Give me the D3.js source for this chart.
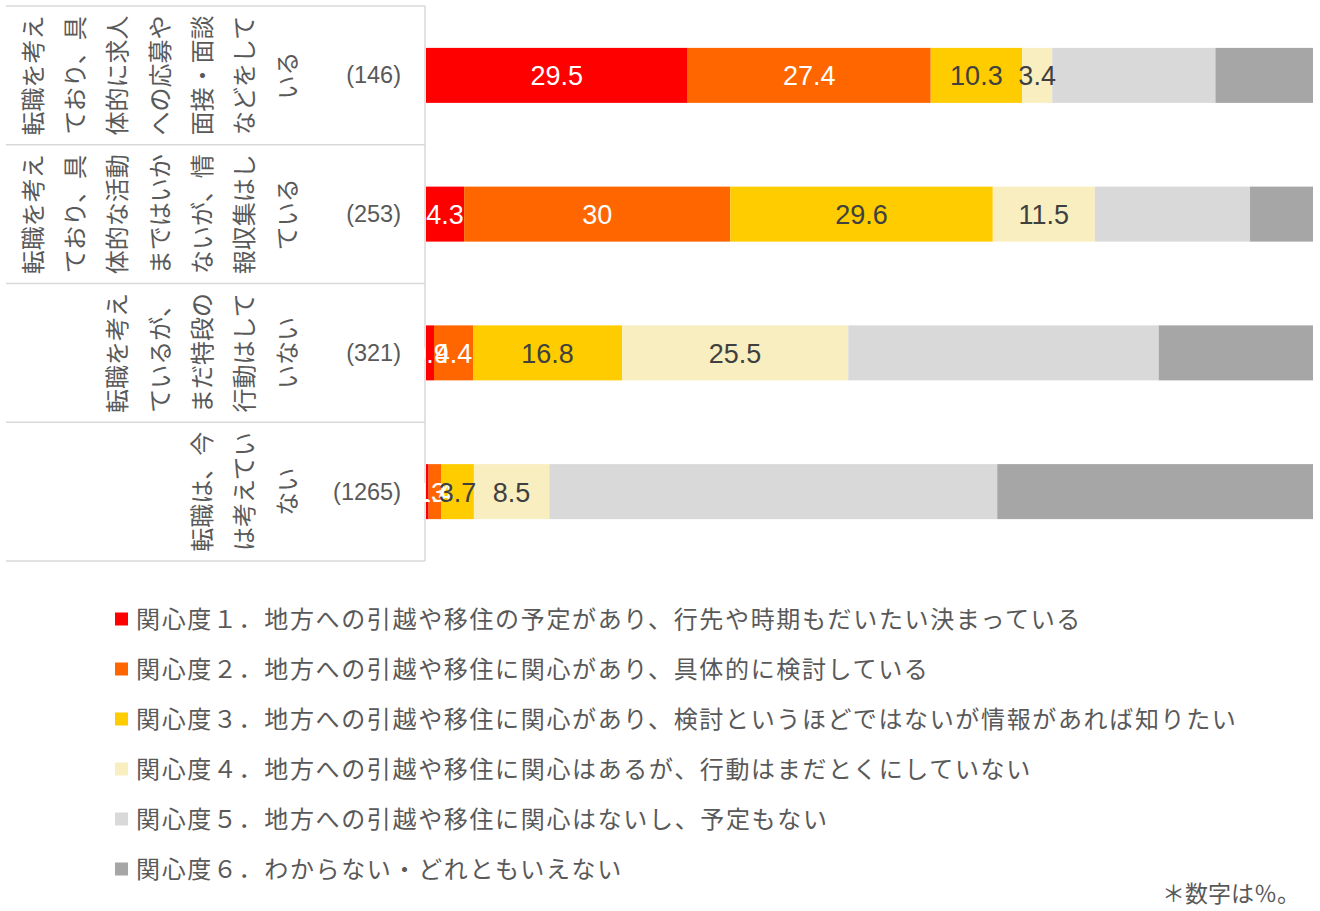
<!DOCTYPE html>
<html>
<head>
<meta charset="utf-8">
<script src="https://cdn.jsdelivr.net/npm/d3@7"></script>
<style>
  body { margin: 0; background: #fff; }
  svg text { font-family: "Noto Sans CJK JP", "Noto Sans", sans-serif; }
  .num { font-family: "Liberation Sans", Arial, sans-serif !important; }
</style>
</head>
<body>
<script>
// row labels, one entry per row, split the way they wrap in the table
var groups = ["g1", "g2", "g3", "g4"];
var groupLines = [
    ["転職を考え", "ており、具", "体的に求人", "への応募や", "面接・面談", "などをして", "いる"],
    ["転職を考え", "ており、具", "体的な活動", "まではいか", "ないが、情", "報収集はし", "ている"],
    ["転職を考え", "ているが、", "まだ特段の", "行動はして", "いない"],
    ["転職は、今", "は考えてい", "ない"]
];
var counts = ["(146)", "(253)", "(321)", "(1265)"];

// percentages per interest level
var lv1 = [29.5, 4.3, 0.9, 0.3];
var lv2 = [27.4, 30, 4.4, 1.4];
var lv3 = [10.3, 29.6, 16.8, 3.7];
var lv4 = [3.4, 11.5, 25.5, 8.5];
var lv5 = [18.4, 17.5, 35.0, 50.5];
var lv6 = [11.0, 7.1, 17.4, 35.6];

var legendLabels = [
    "関心度１．地方への引越や移住の予定があり、行先や時期もだいたい決まっている",
    "関心度２．地方への引越や移住に関心があり、具体的に検討している",
    "関心度３．地方への引越や移住に関心があり、検討というほどではないが情報があれば知りたい",
    "関心度４．地方への引越や移住に関心はあるが、行動はまだとくにしていない",
    "関心度５．地方への引越や移住に関心はないし、予定もない",
    "関心度６．わからない・どれともいえない"
];
var colors = ["#ff0000", "#ff6600", "#ffcc00", "#f9eec0", "#d9d9d9", "#a6a6a6"];
var labelColors = ["#ffffff", "#ffffff", "#404040", "#404040", null, null];

var series = [lv1, lv2, lv3, lv4, lv5, lv6];
var keys = ["lv1", "lv2", "lv3", "lv4", "lv5", "lv6"];

// build rows for d3.stack
var rows = groups.map(function(g, i) {
    var r = { group: g };
    keys.forEach(function(k, j) { r[k] = series[j][i]; });
    return r;
});

var svg = d3.select("body").append("svg")
    .attr("width", 1320)
    .attr("height", 911);

var x = d3.scaleLinear().domain([0, 100]).range([426, 1313]);
var y = d3.scaleBand().domain(groups).range([6, 561]);
var barH = 55;

// table lines
var grid = svg.append("g").attr("stroke", "#d9d9d9").attr("stroke-width", 1.5);
d3.range(groups.length + 1).forEach(function(i) {
    var yy = i < groups.length ? y(groups[i]) : y.range()[1];
    grid.append("line").attr("x1", 6).attr("x2", 425).attr("y1", yy).attr("y2", yy);
});
grid.append("line").attr("x1", 425).attr("x2", 425).attr("y1", 6).attr("y2", 561);

// vertical row labels
groups.forEach(function(g, i) {
    var cy = y(g) + y.bandwidth() / 2;
    var lines = groupLines[i];
    lines.forEach(function(t, j) {
        var cx = 285 - (lines.length - 1 - j) * 42.3;
        svg.append("text")
            .attr("transform", "translate(" + cx + "," + cy + ") rotate(-90)")
            .attr("text-anchor", "middle")
            .attr("dominant-baseline", "central")
            .attr("font-size", 24)
            .attr("fill", "#595959")
            .text(t);
    });
    svg.append("text")
        .attr("class", "num")
        .attr("x", 401)
        .attr("y", cy + 8)
        .attr("text-anchor", "end")
        .attr("font-size", 23.5)
        .attr("fill", "#595959")
        .text(counts[i]);
});

var stacked = d3.stack().keys(keys)(rows);

var layers = svg.selectAll(".layer")
    .data(stacked)
    .enter()
    .append("g")
    .attr("class", "layer")
    .attr("fill", function(d, i) { return colors[i]; });

layers.selectAll("rect")
    .data(function(d) { return d; })
    .enter()
    .append("rect")
    .attr("x", function(d) { return x(d[0]); })
    .attr("width", function(d) { return x(d[1]) - x(d[0]); })
    .attr("y", function(d) { return y(d.data.group) + y.bandwidth() / 2 - barH / 2; })
    .attr("height", barH);

// data labels (levels 1-4 only)
stacked.forEach(function(layer, i) {
    if (!labelColors[i]) return;
    svg.append("g").selectAll("text")
        .data(layer)
        .enter()
        .append("text")
        .attr("class", "num")
        .attr("x", function(d) { return (x(d[0]) + x(d[1])) / 2; })
        .attr("y", function(d) { return y(d.data.group) + y.bandwidth() / 2 + 10; })
        .attr("text-anchor", "middle")
        .attr("font-size", 27)
        .attr("fill", labelColors[i])
        .text(function(d) { return d.data[keys[i]]; });
});

// legend
var legend = svg.append("g");
legendLabels.forEach(function(t, i) {
    var ly = 619 + i * 50;
    legend.append("rect")
        .attr("x", 115).attr("y", ly - 6.5)
        .attr("width", 13).attr("height", 13)
        .attr("fill", colors[i]);
    legend.append("text")
        .attr("x", 136)
        .attr("y", ly + 9)
        .attr("font-size", 24)
        .attr("letter-spacing", 1.65)
        .attr("fill", "#595959")
        .text(t);
});

svg.append("text")
    .attr("x", 1300)
    .attr("y", 902)
    .attr("text-anchor", "end")
    .attr("font-size", 23)
    .attr("fill", "#595959")
    .text("＊数字は％。");
</script>
</body>
</html>
